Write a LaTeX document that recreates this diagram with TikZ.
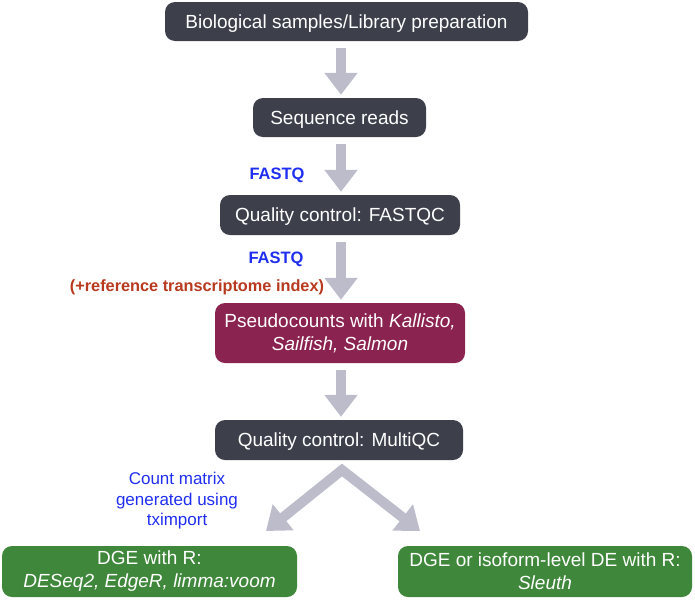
\documentclass[tikz,border=0pt]{standalone}
\usepackage{fontspec}
\setmainfont{Liberation Sans}
\usetikzlibrary{arrows.meta}
\definecolor{darkbox}{HTML}{3D404B}
\definecolor{maroonbox}{HTML}{8A2350}
\definecolor{greenbox}{HTML}{3F873A}
\definecolor{arrowgray}{HTML}{BDBCCB}
\definecolor{lblblue}{HTML}{1F2EF0}
\definecolor{lblred}{HTML}{B8391E}
\tikzset{
  x=1pt, y=-1pt,
  boxbase/.style={rounded corners=10pt, text=white, align=center, inner sep=0pt,
    font=\fontsize{19}{23}\selectfont},
  oneline/.style={text height=17.6pt, text depth=4pt},
  darkstep/.style={boxbase, fill=darkbox, oneline},
  maroonstep/.style={boxbase, fill=maroonbox},
  greenstep/.style={boxbase, fill=greenbox},
  bigarrow/.style={draw=arrowgray, line width=10pt,
    -{Triangle[width=32pt,length=22pt]}, shorten <=7pt, shorten >=3pt},
  bluelbl/.style={text=lblblue, font=\fontsize{16.5}{20.5}\selectfont\bfseries, align=center, inner sep=0pt},
  redlbl/.style={text=lblred, font=\fontsize{16.3}{18}\selectfont\bfseries, inner sep=0pt},
}
\begin{document}
\begin{tikzpicture}
\useasboundingbox (0,0) rectangle (695,600);
\node[darkstep, minimum width=363pt, minimum height=39pt] (b1) at (346.5,21.5) {Biological samples/Library preparation};
\node[darkstep, minimum width=173pt, minimum height=39pt] (b2) at (339.5,117.5) {Sequence reads};
\node[darkstep, minimum width=240pt, minimum height=40pt] (b3) at (340,215) {Quality control: FASTQC};
\node[maroonstep, minimum width=250pt, minimum height=60pt] (b4) at (340,333) {Pseudocounts with \textit{Kallisto,}\\\textit{Sailfish, Salmon}};
\node[darkstep, minimum width=248pt, minimum height=40pt] (b5) at (339,440) {Quality control: MultiQC};
\node[greenstep, minimum width=295pt, minimum height=51pt] (b6) at (149.5,571.5) {DGE with R:\\\textit{DESeq2, EdgeR, limma:voom}};
\node[greenstep, minimum width=294pt, minimum height=51pt] (b7) at (545,571.5) {DGE or isoform-level DE with R:\\\textit{Sleuth}};

\draw[bigarrow] (b1.south -| 341,0) -- (b2.north -| 341,0);
\draw[bigarrow] (b2.south -| 341,0) -- (b3.north -| 341,0);
\draw[bigarrow] (b3.south -| 341,0) -- (b4.north -| 341,0);
\draw[bigarrow] (b4.south -| 341,0) -- (b5.north -| 341,0);

\coordinate (apex) at (342,470);
\coordinate (lt) at (266,531);
\coordinate (rt) at (420,531);
\draw[draw=arrowgray, line width=10pt, line join=miter,
  {Triangle[width=32pt,length=22pt]}-{Triangle[width=32pt,length=22pt]}] (lt) -- (apex) -- (rt);

\node[bluelbl] (f1) at (277,175) {FASTQ};
\node[bluelbl] (f2) at (276,259) {FASTQ};
\node[redlbl] (ref) at (197,287) {(+reference transcriptome index)};
\node[bluelbl, font=\fontsize{17}{20.5}\selectfont] (cm) at (177,501) {Count matrix\\generated using\\tximport};
\end{tikzpicture}
\end{document}
